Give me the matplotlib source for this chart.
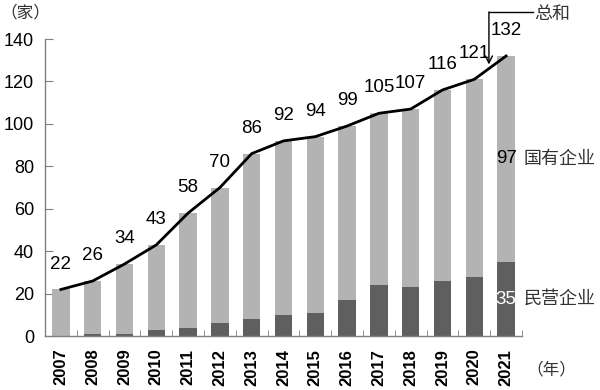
import matplotlib
matplotlib.use("Agg")
import matplotlib.pyplot as plt
import numpy as np

years = ["2007", "2008", "2009", "2010", "2011", "2012", "2013", "2014",
         "2015", "2016", "2017", "2018", "2019", "2020", "2021"]
total = [22, 26, 34, 43, 58, 70, 86, 92, 94, 99, 105, 107, 116, 121, 132]
private = [0, 1, 1, 3, 4, 6, 8, 10, 11, 17, 24, 23, 26, 28, 35]
state = [t - p for t, p in zip(total, private)]
yticks = [0, 20, 40, 60, 80, 100, 120, 140]

num_font = ["Liberation Sans", "DejaVu Sans"]
cjk_font = ["Noto Sans CJK SC", "DejaVu Sans"]

fig = plt.figure(figsize=(6.0, 3.9), dpi=100)
ax = fig.add_axes([0.075, 0.138, 0.795, 0.762])

x = np.arange(len(years))
light = "#b3b3b3"
dark = "#5f5f5f"
ax.bar(x, private, width=0.55, color=dark, zorder=2)
ax.bar(x, state, width=0.55, bottom=private, color=light, zorder=2)
ax.plot(x, total, color="black", lw=2.0, zorder=3)

for xi, t in zip(x, total):
    ax.text(xi, t + 12, str(t), ha="center", va="center", fontsize=13.5,
            family=num_font, color="black", zorder=4)

ax.text(x[-1], private[-1] + state[-1] / 2, str(state[-1]), ha="center", va="center",
        fontsize=13.5, family=num_font, color="black", zorder=4)
ax.text(x[-1], private[-1] / 2, str(private[-1]), ha="center", va="center",
        fontsize=13.5, family=num_font, color="white", zorder=4)

ax.text(1.003, (private[-1] + state[-1] / 2) / 140, "国有企业", transform=ax.transAxes,
        ha="left", va="center", fontsize=13, family=cjk_font, color="#333333")
ax.text(1.003, (private[-1] / 2) / 140, "民营企业", transform=ax.transAxes,
        ha="left", va="center", fontsize=13, family=cjk_font, color="#333333")

# 总和 callout
ax.annotate("", xy=(13.46, 128), xytext=(13.46, 152.7),
            arrowprops=dict(arrowstyle="->,head_length=0.5,head_width=0.25",
                            color="black", lw=1.0, shrinkA=0, shrinkB=0),
            annotation_clip=False, zorder=5)
ax.plot([13.46, 14.85], [152.7, 152.7], color="black", lw=1.0, clip_on=False, zorder=5)
ax.text(14.87, 152.0, "总和", ha="left", va="center", fontsize=13,
        family=cjk_font, color="#333333", clip_on=False)

fig.text(0.0, 0.968, "（家）", ha="left", va="center", fontsize=12,
         family=cjk_font, color="#333333")
fig.text(0.878, 0.052, "（年）", ha="left", va="center", fontsize=12,
         family=cjk_font, color="#333333")

ax.set_xlim(-0.5, len(years) - 0.5)
ax.set_ylim(0, 140)
ax.set_yticks(yticks)
ax.set_yticklabels([str(v) for v in yticks], family=num_font, fontsize=13)
ax.set_xticks(x)
ax.set_xticklabels(years, rotation=90, family=num_font, fontsize=12, fontweight="bold")
ax.tick_params(axis="x", length=0, pad=9)
ax.set_xticks(np.arange(-0.5, len(years)), minor=True)
ax.tick_params(axis="x", which="minor", direction="in", length=4, color="#808080")
ax.tick_params(axis="y", direction="in", length=6, color="#808080", pad=8)

for s in ["top", "right"]:
    ax.spines[s].set_visible(False)
for s in ["left", "bottom"]:
    ax.spines[s].set_color("#808080")
    ax.spines[s].set_linewidth(1.0)

fig.savefig("out.png", dpi=100)
